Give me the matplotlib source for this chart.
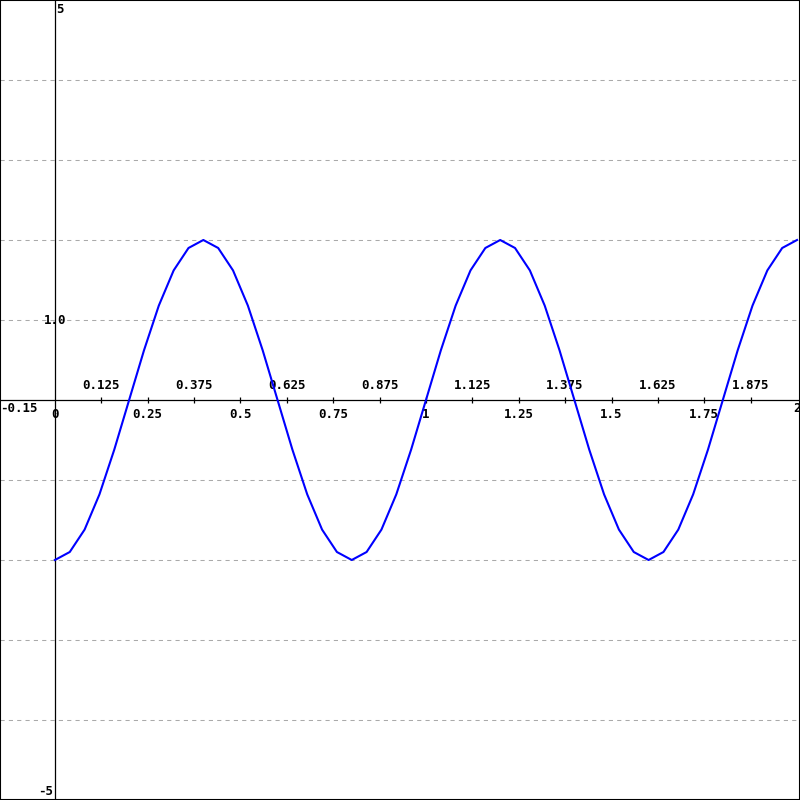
import matplotlib
matplotlib.use("Agg")
import matplotlib.pyplot as plt

x_vals = [0.0, 0.04, 0.08, 0.12, 0.16, 0.2, 0.24, 0.28, 0.32, 0.36,
          0.4, 0.44, 0.48, 0.52, 0.56, 0.6, 0.64, 0.68, 0.72, 0.76,
          0.8, 0.84, 0.88, 0.92, 0.96, 1.0, 1.04, 1.08, 1.12, 1.16,
          1.2, 1.24, 1.28, 1.32, 1.36, 1.4, 1.44, 1.48, 1.52, 1.56,
          1.6, 1.64, 1.68, 1.72, 1.76, 1.8, 1.84, 1.88, 1.92, 1.96, 2.0]
y_vals = [-2.0, -1.9, -1.62, -1.18, -0.62, 0.0, 0.62, 1.18, 1.62, 1.9,
          2.0, 1.9, 1.62, 1.18, 0.62, 0.0, -0.62, -1.18, -1.62, -1.9,
          -2.0, -1.9, -1.62, -1.18, -0.62, 0.0, 0.62, 1.18, 1.62, 1.9,
          2.0, 1.9, 1.62, 1.18, 0.62, 0.0, -0.62, -1.18, -1.62, -1.9,
          -2.0, -1.9, -1.62, -1.18, -0.62, 0.0, 0.62, 1.18, 1.62, 1.9, 2.0]

x_ticks = [0.125, 0.25, 0.375, 0.5, 0.625, 0.75, 0.875, 1.0,
           1.125, 1.25, 1.375, 1.5, 1.625, 1.75, 1.875]
x_tick_labels = ["0.125", "0.25", "0.375", "0.5", "0.625", "0.75", "0.875", "1",
                 "1.125", "1.25", "1.375", "1.5", "1.625", "1.75", "1.875"]
grid_y = [-4, -3, -2, -1, 1, 2, 3, 4]

X_MIN, X_MAX = -0.148, 2.008
Y_MIN, Y_MAX = -5, 5

font = dict(family="DejaVu Sans Mono", fontweight="bold", fontsize=9, color="black")

fig = plt.figure(figsize=(8, 8), dpi=100)
ax = fig.add_axes([0, 0, 1, 1])
ax.set_xlim(X_MIN, X_MAX)
ax.set_ylim(Y_MIN, Y_MAX)
ax.set_xticks([])
ax.set_yticks([])
for sp in ax.spines.values():
    sp.set_linewidth(1.5)
    sp.set_color("black")

# dashed horizontal grid
for gy in grid_y:
    ax.axhline(gy, color="#aaaaaa", lw=0.75, linestyle=(0, (4, 4)), zorder=1)

# axes through the origin
ax.axhline(0, color="black", lw=0.9, zorder=2)
ax.axvline(0, color="black", lw=0.9, zorder=2)

# small tick marks on the x axis
ax.vlines(x_ticks, -0.04, 0.04, color="black", lw=0.9, zorder=2)

# tick labels alternate above / below the axis
for i, (tx, lab) in enumerate(zip(x_ticks, x_tick_labels)):
    if i % 2 == 0:
        ax.annotate(lab, (tx, 0), xytext=(0, 6), textcoords="offset points",
                    ha="center", va="bottom", **font)
    else:
        ax.annotate(lab, (tx, 0), xytext=(0, -5.5), textcoords="offset points",
                    ha="center", va="top", **font)

ax.annotate("0", (0, 0), xytext=(0, -5.5), textcoords="offset points",
            ha="center", va="top", **font)
ax.annotate("-0.15", (X_MIN, 0), xytext=(0, -1.5), textcoords="offset points",
            ha="left", va="top", **font)
ax.annotate("2", (2.0, 0), xytext=(0, -1.5), textcoords="offset points",
            ha="center", va="top", **font)

# y labels
ax.annotate("5", (0, Y_MAX), xytext=(1, -2), textcoords="offset points",
            ha="left", va="top", **font)
ax.annotate("1.0", (0, 1), xytext=(0, 0), textcoords="offset points",
            ha="center", va="center", **font)
ax.annotate("-5", (0, Y_MIN), xytext=(-1, 1.5), textcoords="offset points",
            ha="right", va="bottom", **font)

# the curve
ax.plot(x_vals, y_vals, color="#0000ff", lw=1.5, zorder=3)

fig.savefig("out.png", dpi=100)
